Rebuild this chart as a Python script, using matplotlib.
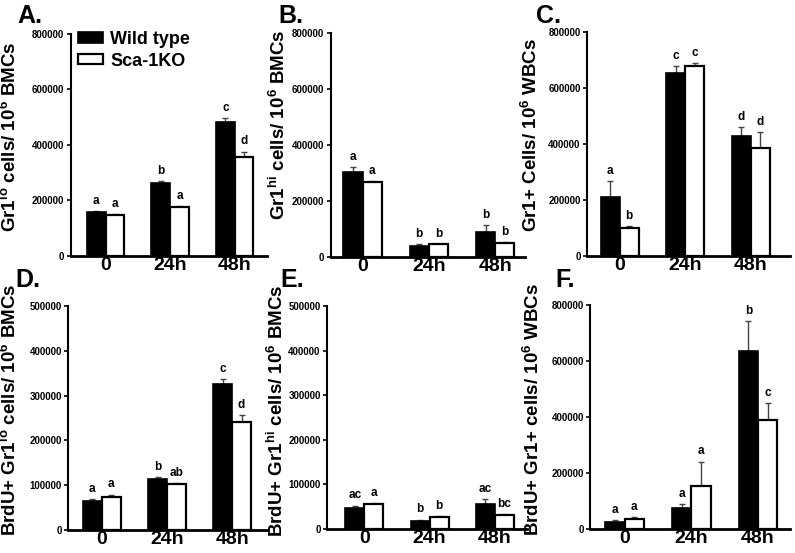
import matplotlib
matplotlib.use("Agg")
import matplotlib.pyplot as plt
from matplotlib.patches import Patch
import numpy as np

plt.rcParams['font.family'] = ['Liberation Sans', 'DejaVu Sans']
plt.rcParams['font.weight'] = 'bold'
plt.rcParams['mathtext.fontset'] = 'custom'
plt.rcParams['mathtext.rm'] = 'Liberation Sans:bold'
plt.rcParams['mathtext.bf'] = 'Liberation Sans:bold'
plt.rcParams['mathtext.default'] = 'rm'

categories = ['0', '24h', '48h']
series_names = ['Wild type', 'Sca-1KO']

A_wt = [158000, 262000, 484000]
A_wt_err = [3000, 8000, 12000]
A_ko = [148000, 178000, 356000]
A_ko_err = [2000, 2000, 20000]
A_letters = ['a', 'a', 'b', 'a', 'c', 'd']

B_wt = [302000, 40000, 90000]
B_wt_err = [20000, 4000, 24000]
B_ko = [269000, 44000, 48000]
B_ko_err = [3000, 2000, 5000]
B_letters = ['a', 'a', 'b', 'b', 'b', 'b']

C_wt = [212000, 653000, 430000]
C_wt_err = [57000, 24000, 30000]
C_ko = [101000, 677000, 385000]
C_ko_err = [7000, 12000, 57000]
C_letters = ['a', 'b', 'c', 'c', 'd', 'd']

D_wt = [65000, 113000, 325000]
D_wt_err = [4500, 6000, 12000]
D_ko = [74000, 103000, 240000]
D_ko_err = [5000, 2000, 16000]
D_letters = ['a', 'a', 'b', 'ab', 'c', 'd']

E_wt = [48000, 19000, 55000]
E_wt_err = [4500, 2000, 13000]
E_ko = [56000, 27000, 31000]
E_ko_err = [3000, 1500, 2000]
E_letters = ['ac', 'a', 'b', 'b', 'ac', 'bc']

F_wt = [24000, 74000, 635000]
F_wt_err = [8000, 14000, 108000]
F_ko = [34500, 155000, 389000]
F_ko_err = [7000, 86000, 62000]
F_letters = ['a', 'a', 'a', 'a', 'b', 'c']

ticks_800 = [0, 200000, 400000, 600000, 800000]
ticks_500 = [0, 100000, 200000, 300000, 400000, 500000]

ylabels = {
    'A': r'Gr1$^{lo}$ cells/ 10$^{6}$ BMCs',
    'B': r'Gr1$^{hi}$ cells/ 10$^{6}$ BMCs',
    'C': r'Gr1+ Cells/ 10$^{6}$ WBCs',
    'D': r'BrdU+ Gr1$^{lo}$ cells/ 10$^{6}$ BMCs',
    'E': r'BrdU+ Gr1$^{hi}$ cells/ 10$^{6}$ BMCs',
    'F': r'BrdU+ Gr1+ cells/ 10$^{6}$ WBCs',
}

W, H = 795, 553
fig = plt.figure(figsize=(W / 100, H / 100), dpi=100)

# layout in pixels: left, right, top, bottom
panels = [
    ('A', (70.7, 267, 34, 256), A_wt, A_wt_err, A_ko, A_ko_err, A_letters, ticks_800, (20, 137), (-0.54, 2.5), (17, 23)),
    ('B', (330.7, 525, 33.3, 256.7), B_wt, B_wt_err, B_ko, B_ko_err, B_letters, ticks_800, (289, 125), (-0.48, 2.45), (278, 23)),
    ('C', (587, 790, 32, 256), C_wt, C_wt_err, C_ko, C_ko_err, C_letters, ticks_800, (541, 135), (-0.5, 2.6), (536, 23)),
    ('D', (68, 268, 306, 530), D_wt, D_wt_err, D_ko, D_ko_err, D_letters, ticks_500, (20, 410), (-0.52, 2.55), (15, 287)),
    ('E', (327, 527, 306, 529), E_wt, E_wt_err, E_ko, E_ko_err, E_letters, ticks_500, (287, 411), (-0.57, 2.49), (280, 287)),
    ('F', (590, 790, 305, 529), F_wt, F_wt_err, F_ko, F_ko_err, F_letters, ticks_800, (543, 409), (-0.52, 2.48), (555, 287)),
]

bw = 0.29
x = np.arange(len(categories))

for (name, (l, r, t, b), wt, wte, ko, koe, letters, ticks, lab_xy, xlim, let_xy) in panels:
    ax = fig.add_axes([l / W, 1 - b / H, (r - l) / W, (b - t) / H])
    ax.bar(x - bw / 2, wt, bw, color='black', edgecolor='black', linewidth=1.2, zorder=2,
           label=series_names[0])
    ax.bar(x + bw / 2, ko, bw, color='white', edgecolor='black', linewidth=1.6, zorder=2,
           label=series_names[1])
    ax.errorbar(x - bw / 2, wt, yerr=[np.zeros(3), wte], fmt='none', ecolor='#444444',
                elinewidth=1, capsize=2.5, capthick=1, zorder=1)
    ax.errorbar(x + bw / 2, ko, yerr=[np.zeros(3), koe], fmt='none', ecolor='#444444',
                elinewidth=1, capsize=2.5, capthick=1, zorder=1)
    for i in range(3):
        for j, (vals, errs) in enumerate([(wt, wte), (ko, koe)]):
            ax.annotate(letters[2 * i + j], (x[i] + (j - 0.5) * bw, vals[i] + errs[i]),
                        xytext=(0, 3), textcoords='offset points', ha='center', va='bottom',
                        fontsize=8.5, fontweight='bold')
    ax.set_xlim(*xlim)
    ax.set_ylim(0, ticks[-1])
    ax.set_yticks(ticks)
    ax.set_yticklabels([str(v) for v in ticks], fontsize=7, fontweight='bold')
    ax.set_xticks(x)
    ax.set_xticklabels(categories, fontsize=14, fontweight='bold')
    ax.tick_params(axis='x', length=0, pad=1)
    ax.tick_params(axis='y', length=3, width=1.2, pad=1.5)
    for s in ['top', 'right']:
        ax.spines[s].set_visible(False)
    ax.spines['left'].set_linewidth(1.5)
    ax.spines['bottom'].set_linewidth(2)
    ax.set_ylabel(ylabels[name], fontsize=13.5, fontweight='bold')
    ax.yaxis.set_label_coords((lab_xy[0] - l) / (r - l), (b - lab_xy[1]) / (b - t))
    fig.text(let_xy[0] / W, 1 - let_xy[1] / H, name + '.', fontsize=18, fontweight='bold',
             ha='left', va='baseline')
    if name == 'A':
        leg = ax.legend(loc='upper left', bbox_to_anchor=((78 - l) / (r - l), (b - 31) / (b - t)),
                        frameon=False, fontsize=13, handlelength=1.4, handleheight=0.5,
                        handletextpad=0.4, borderpad=0, borderaxespad=0, labelspacing=0.25,
                        prop={'weight': 'bold', 'size': 13})

fig.savefig('out.png', dpi=100)
